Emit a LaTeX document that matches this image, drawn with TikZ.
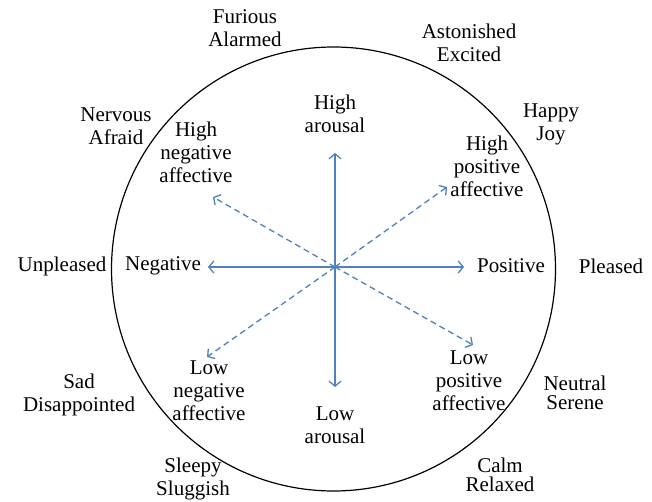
\documentclass[tikz,border=0pt]{standalone}
\usepackage{fontspec}
\setmainfont{Liberation Serif}
\usetikzlibrary{arrows.meta}
\definecolor{axisblue}{RGB}{79,129,189}
\tikzset{
  lbl/.style={align=center, inner sep=0pt, font=\fontsize{21}{23}\selectfont},
  tight/.style={font=\fontsize{21}{19}\selectfont},
  axis/.style={axisblue, line width=1.3pt, -{Straight Barb[length=5pt,width=12pt]}},
  diag/.style={axis, dash pattern=on 6pt off 4pt}
}
\begin{document}
\begin{tikzpicture}[x=1pt,y=-1pt]
\useasboundingbox (0,0) rectangle (652,502);
\draw[line width=1.2pt] (333.5,269) circle (222);
% axes
\coordinate (o) at (335,267);
\coordinate (up) at (335,153);
\coordinate (down) at (335,387);
\coordinate (right) at (464,267);
\coordinate (left) at (208,267);
\coordinate (ne) at (447,187);
\coordinate (nw) at (213,197);
\coordinate (sw) at (207,357);
\coordinate (se) at (473,345);
\draw[axis] (o) -- (up);
\draw[axis] (o) -- (down);
\draw[axis] (o) -- (right);
\draw[axis] (o) -- (left);
\draw[diag] (o) -- (ne);
\draw[diag] (o) -- (nw);
\draw[diag] (o) -- (sw);
\draw[diag] (o) -- (se);
% inner labels
\node[lbl] (higharousal) at (335,114) {High\\arousal};
\node[lbl] (lowarousal) at (335,425) {Low\\arousal};
\node[lbl] (negative) at (163,266) {Negative};
\node[lbl] (positive) at (511,266) {Positive};
\node[lbl] (highneg) at (196,152) {High\\negative\\affective};
\node[lbl] (highpos) at (487,166) {High\\positive\\affective};
\node[lbl] (lowneg) at (209,391) {Low\\negative\\affective};
\node[lbl] (lowpos) at (469,381) {Low\\positive\\affective};
% outer labels
\node[lbl] (furious) at (245,28) {Furious\\Alarmed};
\node[lbl] (astonished) at (469,43) {Astonished\\Excited};
\node[lbl] (happy) at (551,124) {Happy\\Joy};
\node[lbl] (pleased) at (611,266) {Pleased};
\node[lbl,tight] (neutral) at (575,393) {Neutral\\Serene};
\node[lbl,tight] (calm) at (500,475) {Calm\\Relaxed};
\node[lbl] (sleepy) at (193,479) {Sleepy\\Sluggish};
\node[lbl] (sad) at (79,395) {Sad\\Disappointed};
\node[lbl] (unpleased) at (62,266) {Unpleased};
\node[lbl] (nervous) at (116,126) {Nervous\\Afraid};
\end{tikzpicture}
\end{document}
